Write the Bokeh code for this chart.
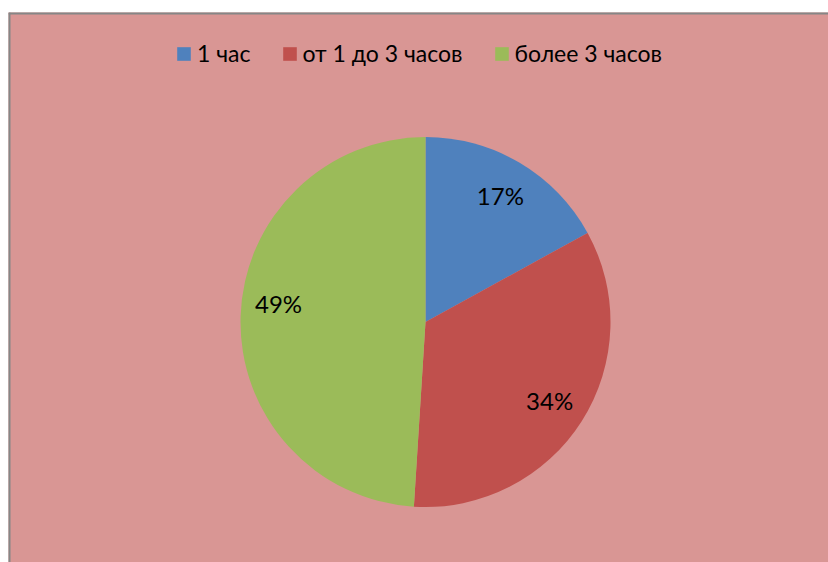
import math
from bokeh.plotting import figure
from bokeh.models import ColumnDataSource, Range1d, Legend, LegendItem
from bokeh.core.properties import value
from bokeh.embed import file_html
from bokeh.resources import INLINE

# ---- data ----
categories = ["1 час", "от 1 до 3 часов", "более 3 часов"]
values = [17, 34, 49]
colors = ["#4F81BD", "#C0504D", "#9BBB59"]

# ---- layout constants ----
W, H = 828, 562
BL, BT = 8, 12               # white margin left / top
FW, FH = W - BL, H - BT      # frame size in px (1 data unit = 1 px)
CX, CY, R = 417, 240.5, 185  # pie centre / radius
LABEL_R = 147
label_y_offsets = [0, 0, -14]

total = float(sum(values))
fracs = [v / total for v in values]
cum = [0.0]
for f in fracs:
    cum.append(cum[-1] + f)
start = [math.pi / 2 - 2 * math.pi * cum[i] for i in range(len(values))]
end = [math.pi / 2 - 2 * math.pi * cum[i + 1] for i in range(len(values))]
mid = [(s + e) / 2 for s, e in zip(start, end)]

src = ColumnDataSource(dict(
    cat=categories, val=values, color=colors,
    start=start, end=end,
    lx=[CX + LABEL_R * math.cos(a) for a in mid],
    ly=[CY + LABEL_R * math.sin(a) for a in mid],
    lab=["%d%%" % round(f * 100) for f in fracs],
    yoff=label_y_offsets,
))

p = figure(width=W, height=H, output_backend="svg", toolbar_location=None,
           x_range=Range1d(0, FW), y_range=Range1d(0, FH),
           min_border_left=BL, min_border_top=BT, min_border_right=0, min_border_bottom=0)
p.axis.visible = False
p.grid.visible = False
p.outline_line_color = None
p.background_fill_color = "#D99694"
p.border_fill_color = "white"

# chart-area border (left and top edges only are visible in the reference)
p.segment(x0=[0, 0], y0=[0, FH], x1=[0, FW], y1=[FH, FH],
          line_color="#868686", line_width=4)

r = p.wedge(x=CX, y=CY, radius=R, start_angle="start", end_angle="end",
            direction="clock", fill_color="color", line_color=None, source=src)

p.text(x="lx", y="ly", text="lab", y_offset="yoff", source=src,
       text_align="center", text_baseline="middle",
       text_font=value("Lato"), text_font_size="24px", text_color="black")

legend = Legend(items=[LegendItem(label=c, renderers=[r], index=i) for i, c in enumerate(categories)],
                orientation="horizontal", location=(167, 495),
                glyph_width=17, glyph_height=17, label_standoff=5, spacing=30,
                padding=0, margin=0, border_line_color=None, background_fill_alpha=0,
                label_text_font="Lato", label_text_font_size="23px",
                label_text_color="black", label_height=17)
p.add_layout(legend)

open("out.html", "w").write(file_html(p, INLINE))
